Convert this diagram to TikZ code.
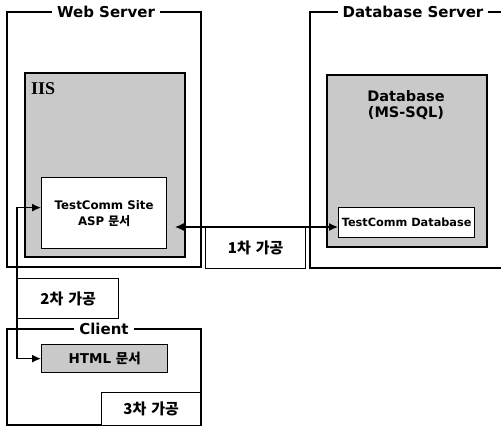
\documentclass[tikz,border=0pt]{standalone}
\usepackage{fontspec}
\setmainfont{DejaVu Sans}
\newfontfamily\kr{Noto Sans CJK KR}
\newfontfamily\serifb{Liberation Serif}
\newcommand\K[1]{{\kr\bfseries #1}}
\usetikzlibrary{arrows.meta}
\begin{document}
\begin{tikzpicture}[x=1pt,y=-1pt,
  frame/.style={draw,line width=1.3pt},
  graybox/.style={draw,line width=1.3pt,fill=gray!42},
  whitebox/.style={draw,line width=1.3pt,fill=white},
  ttl/.style={fill=white,inner xsep=5pt,inner ysep=1pt,font=\bfseries\fontsize{15}{16}\selectfont},
  lbl/.style={font=\kr\bfseries\fontsize{15}{16}\selectfont},
  conn/.style={line width=1.3pt,{Latex[length=9pt,width=8pt]}-{Latex[length=9pt,width=8pt]}}
]
\useasboundingbox (0,0) rectangle (501,435);
% Web server frame
\draw[frame] (7,12) rectangle (201,267);
\node[ttl] (webt) at (106,12) {Web Server};
% Database server frame
\draw[frame] (506,12) -- (310,12) -- (310,268) -- (506,268);
\node[ttl] (dbt) at (413,12) {Database Server};
% IIS
\draw[graybox] (25,73) rectangle (185,257);
\node[font=\serifb\bfseries\fontsize{18}{18}\selectfont,anchor=west,inner sep=0pt] (iis) at (31,89) {IIS};
\node[whitebox,minimum width=125pt,minimum height=71pt,anchor=north west,
      font=\bfseries\fontsize{11.8}{16}\selectfont,align=center,inner sep=0pt] (site) at (41,177) {TestComm Site\\ASP \K{문서}};
% Database
\draw[graybox] (327,75) rectangle (487,247);
\node[font=\bfseries\fontsize{14.5}{16}\selectfont,align=center] (dbn) at (406,105) {Database\\(MS-SQL)};
\node[whitebox,minimum width=136pt,minimum height=30pt,anchor=north west,inner sep=0pt,
      font=\bfseries\fontsize{11.3}{12}\selectfont] (tcdb) at (338,207) {TestComm Database};
% 1st processing
\node[whitebox,minimum width=100pt,minimum height=41pt,anchor=north west,inner sep=0pt,lbl] (p1) at (205,227) {1차\hspace{5pt}가공};
% 2nd processing
\node[whitebox,minimum width=101pt,minimum height=40pt,anchor=north west,inner sep=0pt,lbl] (p2) at (17,278) {2차\hspace{5pt}가공};
% Client frame
\draw[frame] (7,329) rectangle (201,425);
\node[ttl] (clt) at (104,329) {Client};
\node[graybox,minimum width=126pt,minimum height=28pt,anchor=north west,inner sep=0pt,
      font=\bfseries\fontsize{13.5}{14}\selectfont] (html) at (41,344) {HTML \K{문서}};
\node[whitebox,minimum width=99pt,minimum height=33pt,anchor=north west,inner sep=0pt,lbl] (p3) at (101,392) {3차\hspace{5pt}가공};
% connectors
\coordinate (iisR) at (175,227);
\draw[conn] (iisR) -- (iisR -| tcdb.west);
\coordinate (siteIn) at ([yshift=5.5pt]site.west);
\coordinate (bend) at (17,0);
\draw[conn] (siteIn) -- (siteIn -| bend) -- (bend |- html.west) -- (html.west);
\end{tikzpicture}
\end{document}
